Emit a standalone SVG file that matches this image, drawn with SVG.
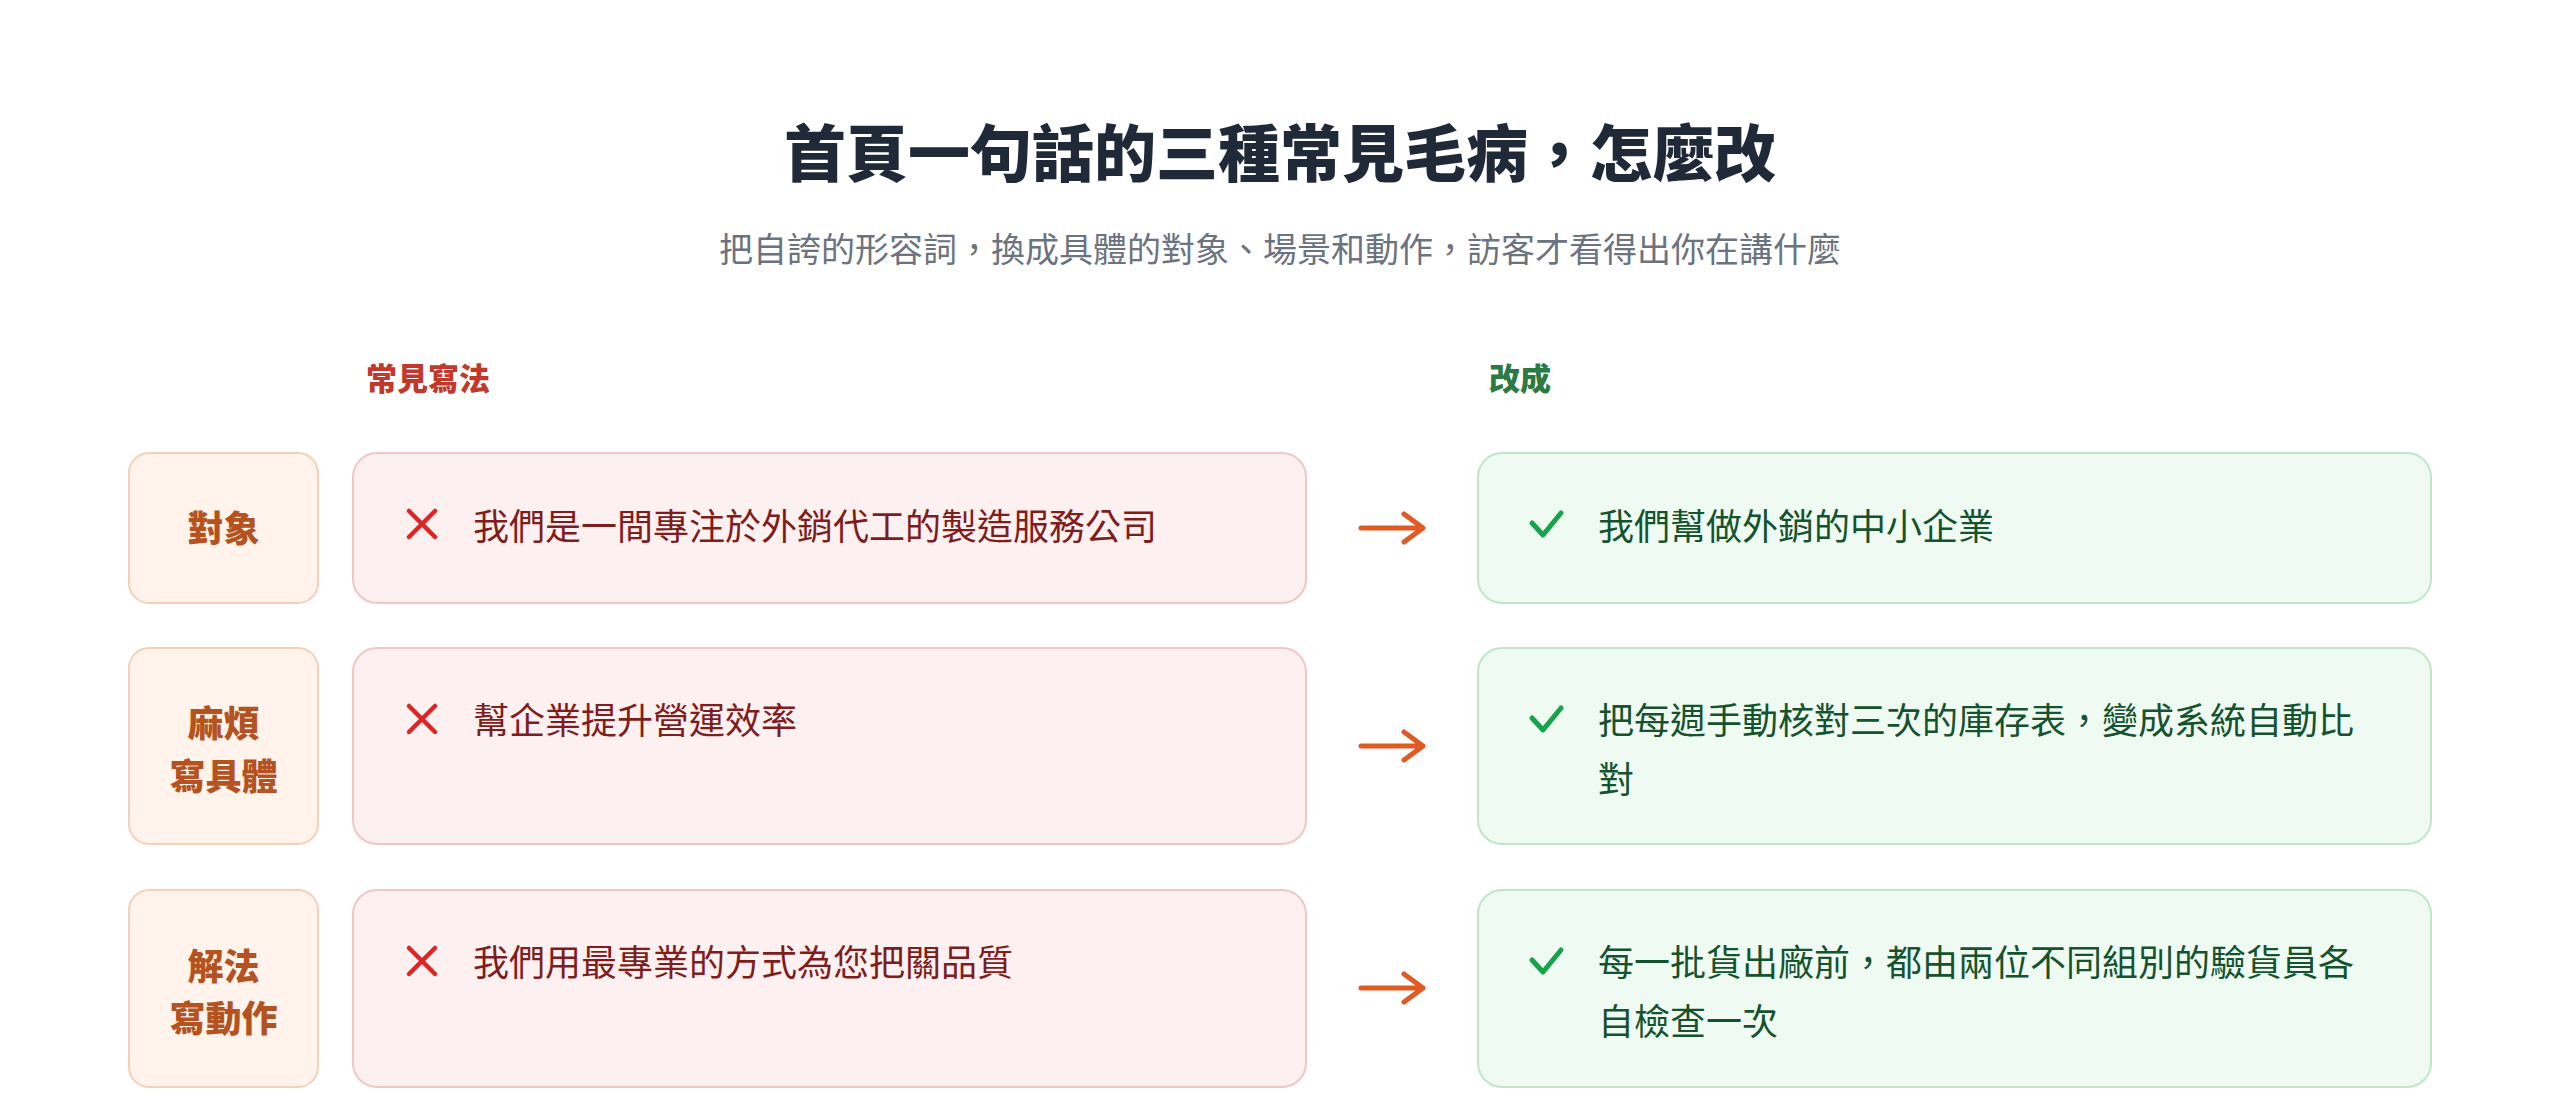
<svg xmlns="http://www.w3.org/2000/svg" width="2560" height="1114" viewBox="0 0 2560 1114">
<style>
text{font-family:"Noto Sans CJK TC","Noto Sans CJK SC",sans-serif}
.title{font-size:62px;font-weight:900;fill:#1f2937}
.sub{font-size:34px;fill:#6b7280}
.hbad{font-size:31px;font-weight:800;fill:#c0392b}
.hgood{font-size:31px;font-weight:800;fill:#2b7a43}
.lbox{fill:#fff3ec;stroke:#f3d0b6;stroke-width:2}
.ltxt{font-size:36px;font-weight:900;fill:#b4531f;text-anchor:middle}
.bbox{fill:#fdf0f0;stroke:#f1c6c6;stroke-width:2}
.btxt{font-size:36px;fill:#7f1d1d}
.gbox{fill:#effbf2;stroke:#bfe6cb;stroke-width:2}
.gtxt{font-size:36px;fill:#14532d}
.xm{stroke:#dc2626;stroke-width:4.5;stroke-linecap:round;fill:none}
.ck{stroke:#16a34a;stroke-width:5;stroke-linecap:round;stroke-linejoin:round;fill:none}
.arr{stroke:#e05a24;stroke-width:5;stroke-linecap:round;stroke-linejoin:round;fill:none}
</style>
<rect width="2560" height="1114" fill="#ffffff"/>
<text class="title" x="1280" y="177" text-anchor="middle">首頁一句話的三種常見毛病，怎麼改</text>
<text class="sub" x="1280" y="262" text-anchor="middle">把自誇的形容詞，換成具體的對象、場景和動作，訪客才看得出你在講什麼</text>
<text class="hbad" x="366" y="390">常見寫法</text>
<text class="hgood" x="1489" y="390">改成</text>

<g id="row1-label"><rect class="lbox" x="129" y="453" width="189" height="150" rx="20"/><text class="ltxt" x="223.5" y="542">對象</text></g>
<g id="row1-bad"><rect class="bbox" x="353" y="453" width="953" height="150" rx="24"/><path class="xm" d="M409 511 L435 537 M435 511 L409 537"/><text class="btxt" x="473" y="540">我們是一間專注於外銷代工的製造服務公司</text></g>
<g id="row1-good"><rect class="gbox" x="1478" y="453" width="953" height="150" rx="24"/><path class="ck" d="M1532 523 L1543 535 L1561 513"/><text class="gtxt" x="1598" y="540">我們幫做外銷的中小企業</text></g>

<g id="row2-label"><rect class="lbox" x="129" y="648" width="189" height="196" rx="20"/><text class="ltxt" x="223.5" y="737">麻煩</text><text class="ltxt" x="223.5" y="790">寫具體</text></g>
<g id="row2-bad"><rect class="bbox" x="353" y="648" width="953" height="196" rx="24"/><path class="xm" d="M409 706 L435 732 M435 706 L409 732"/><text class="btxt" x="473" y="734">幫企業提升營運效率</text></g>
<g id="row2-good"><rect class="gbox" x="1478" y="648" width="953" height="196" rx="24"/><path class="ck" d="M1532 718 L1543 730 L1561 708"/><text class="gtxt" x="1598" y="734">把每週手動核對三次的庫存表，變成系統自動比</text><text class="gtxt" x="1598" y="793">對</text></g>

<g id="row3-label"><rect class="lbox" x="129" y="890" width="189" height="197" rx="20"/><text class="ltxt" x="223.5" y="980">解法</text><text class="ltxt" x="223.5" y="1032">寫動作</text></g>
<g id="row3-bad"><rect class="bbox" x="353" y="890" width="953" height="197" rx="24"/><path class="xm" d="M409 948 L435 974 M435 948 L409 974"/><text class="btxt" x="473" y="976">我們用最專業的方式為您把關品質</text></g>
<g id="row3-good"><rect class="gbox" x="1478" y="890" width="953" height="197" rx="24"/><path class="ck" d="M1532 960 L1543 972 L1561 950"/><text class="gtxt" x="1598" y="976">每一批貨出廠前，都由兩位不同組別的驗貨員各</text><text class="gtxt" x="1598" y="1035">自檢查一次</text></g>

<g id="connectors">
<path class="arr" d="M1361 528 H1423 M1404 514 L1423 528 L1404 542"/>
<path class="arr" d="M1361 746 H1423 M1404 732 L1423 746 L1404 760"/>
<path class="arr" d="M1361 988 H1423 M1404 974 L1423 988 L1404 1002"/>
</g>
</svg>
